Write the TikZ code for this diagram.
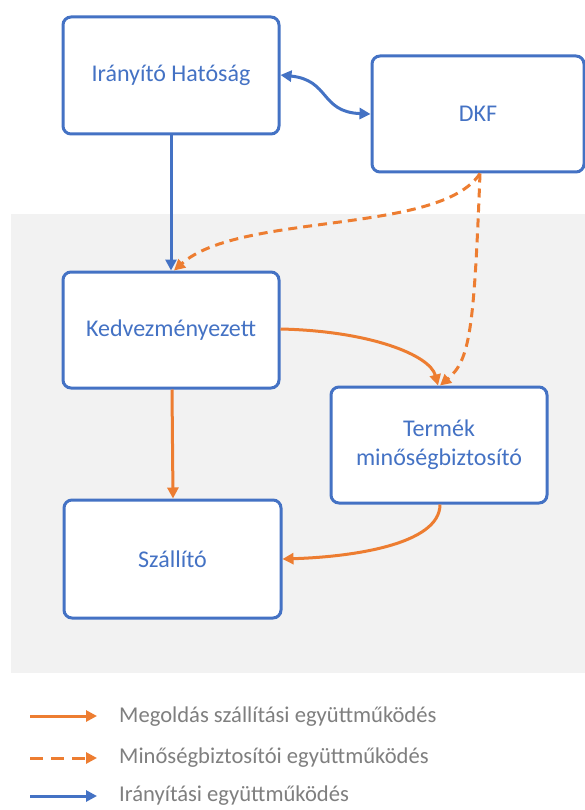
\documentclass[tikz,border=0pt]{standalone}
\usepackage{fontspec}
\setmainfont{Carlito}
\usetikzlibrary{arrows.meta}
\definecolor{ublue}{HTML}{4472C4}
\definecolor{uorange}{HTML}{ED7D31}
\definecolor{ugray}{HTML}{7F7F7F}
\definecolor{ubg}{HTML}{F2F2F2}
\tikzset{
  boxnode/.style={draw=ublue, line width=3pt, rounded corners=8pt, fill=white,
    minimum width=216pt, minimum height=117pt, text=ublue, align=center,
    font=\fontsize{24}{29}\selectfont, inner sep=2pt},
  tip/.style={-{Triangle[length=11pt,width=11pt]}},
  bluearr/.style={tip, draw=ublue, line width=3pt},
  orarr/.style={tip, draw=uorange, line width=3pt},
  dasharr/.style={tip, draw=uorange, line width=3pt, dash pattern=on 9pt off 6pt},
  legtext/.style={anchor=west, text=ugray, font=\fontsize{22.6}{27}\selectfont, inner sep=0pt}
}
\begin{document}
\begin{tikzpicture}[x=1pt,y=-1pt]
\useasboundingbox (0,0) rectangle (585,810);
\fill[white] (0,0) rectangle (585,810);
\fill[ubg] (11,214) rectangle (585,673);

\node[boxnode] (ih) at (171,75.5) {Irányító Hatóság};
\node[boxnode, minimum width=212pt, minimum height=116pt] (dkf) at (478,114) {DKF};
\node[boxnode, minimum height=116pt] (kedv) at (171,330) {Kedvezményezett};
\node[boxnode, minimum height=116pt] (term) at (439,445) {Termék\\minőségbiztosító};
\node[boxnode, minimum width=217pt, minimum height=118pt] (szal) at (172.5,559) {Szállító};

% blue
\draw[bluearr] (ih.south) -- (kedv.north);
\draw[draw=ublue, line width=3pt, {Triangle[length=11pt,width=11pt]}-{Triangle[length=11pt,width=11pt]}]
  ([yshift=0.5pt]ih.east) .. controls (330,80) and (320,112) .. (dkf.west);

% dashed
\draw[dasharr] ([xshift=2pt]dkf.south) .. controls (440,235) and (240,212) .. ([xshift=3pt]kedv.north);
\draw[dasharr] ([xshift=2pt]dkf.south) .. controls (474,330) and (470,360) .. ([xshift=1pt]term.north);

% orange solid
\draw[orarr] ([yshift=1pt]kedv.east) .. controls (370,331) and (430,355) .. ([xshift=-1pt]term.north);
\draw[orarr] ([xshift=1pt]kedv.south) -- ([xshift=0.5pt]szal.north);
\draw[orarr] ([xshift=1pt]term.south) .. controls (440,545) and (350,557) .. (szal.east);

% legend
\coordinate (l1a) at (30,716); \coordinate (l1b) at (97,716);
\coordinate (l2a) at (30,758); \coordinate (l2b) at (97,758);
\coordinate (l3a) at (30,796); \coordinate (l3b) at (97,796);
\draw[orarr] (l1a) -- (l1b);
\draw[tip, draw=uorange, line width=3pt, dash pattern=on 13pt off 8pt] (l2a) -- (l2b);
\draw[bluearr] (l3a) -- (l3b);
\node[legtext] (t1) at (119,717) {Megoldás szállítási együttműködés};
\node[legtext] (t2) at (119,758) {Minőségbiztosítói együttműködés};
\node[legtext] (t3) at (119,796) {Irányítási együttműködés};
\end{tikzpicture}
\end{document}
